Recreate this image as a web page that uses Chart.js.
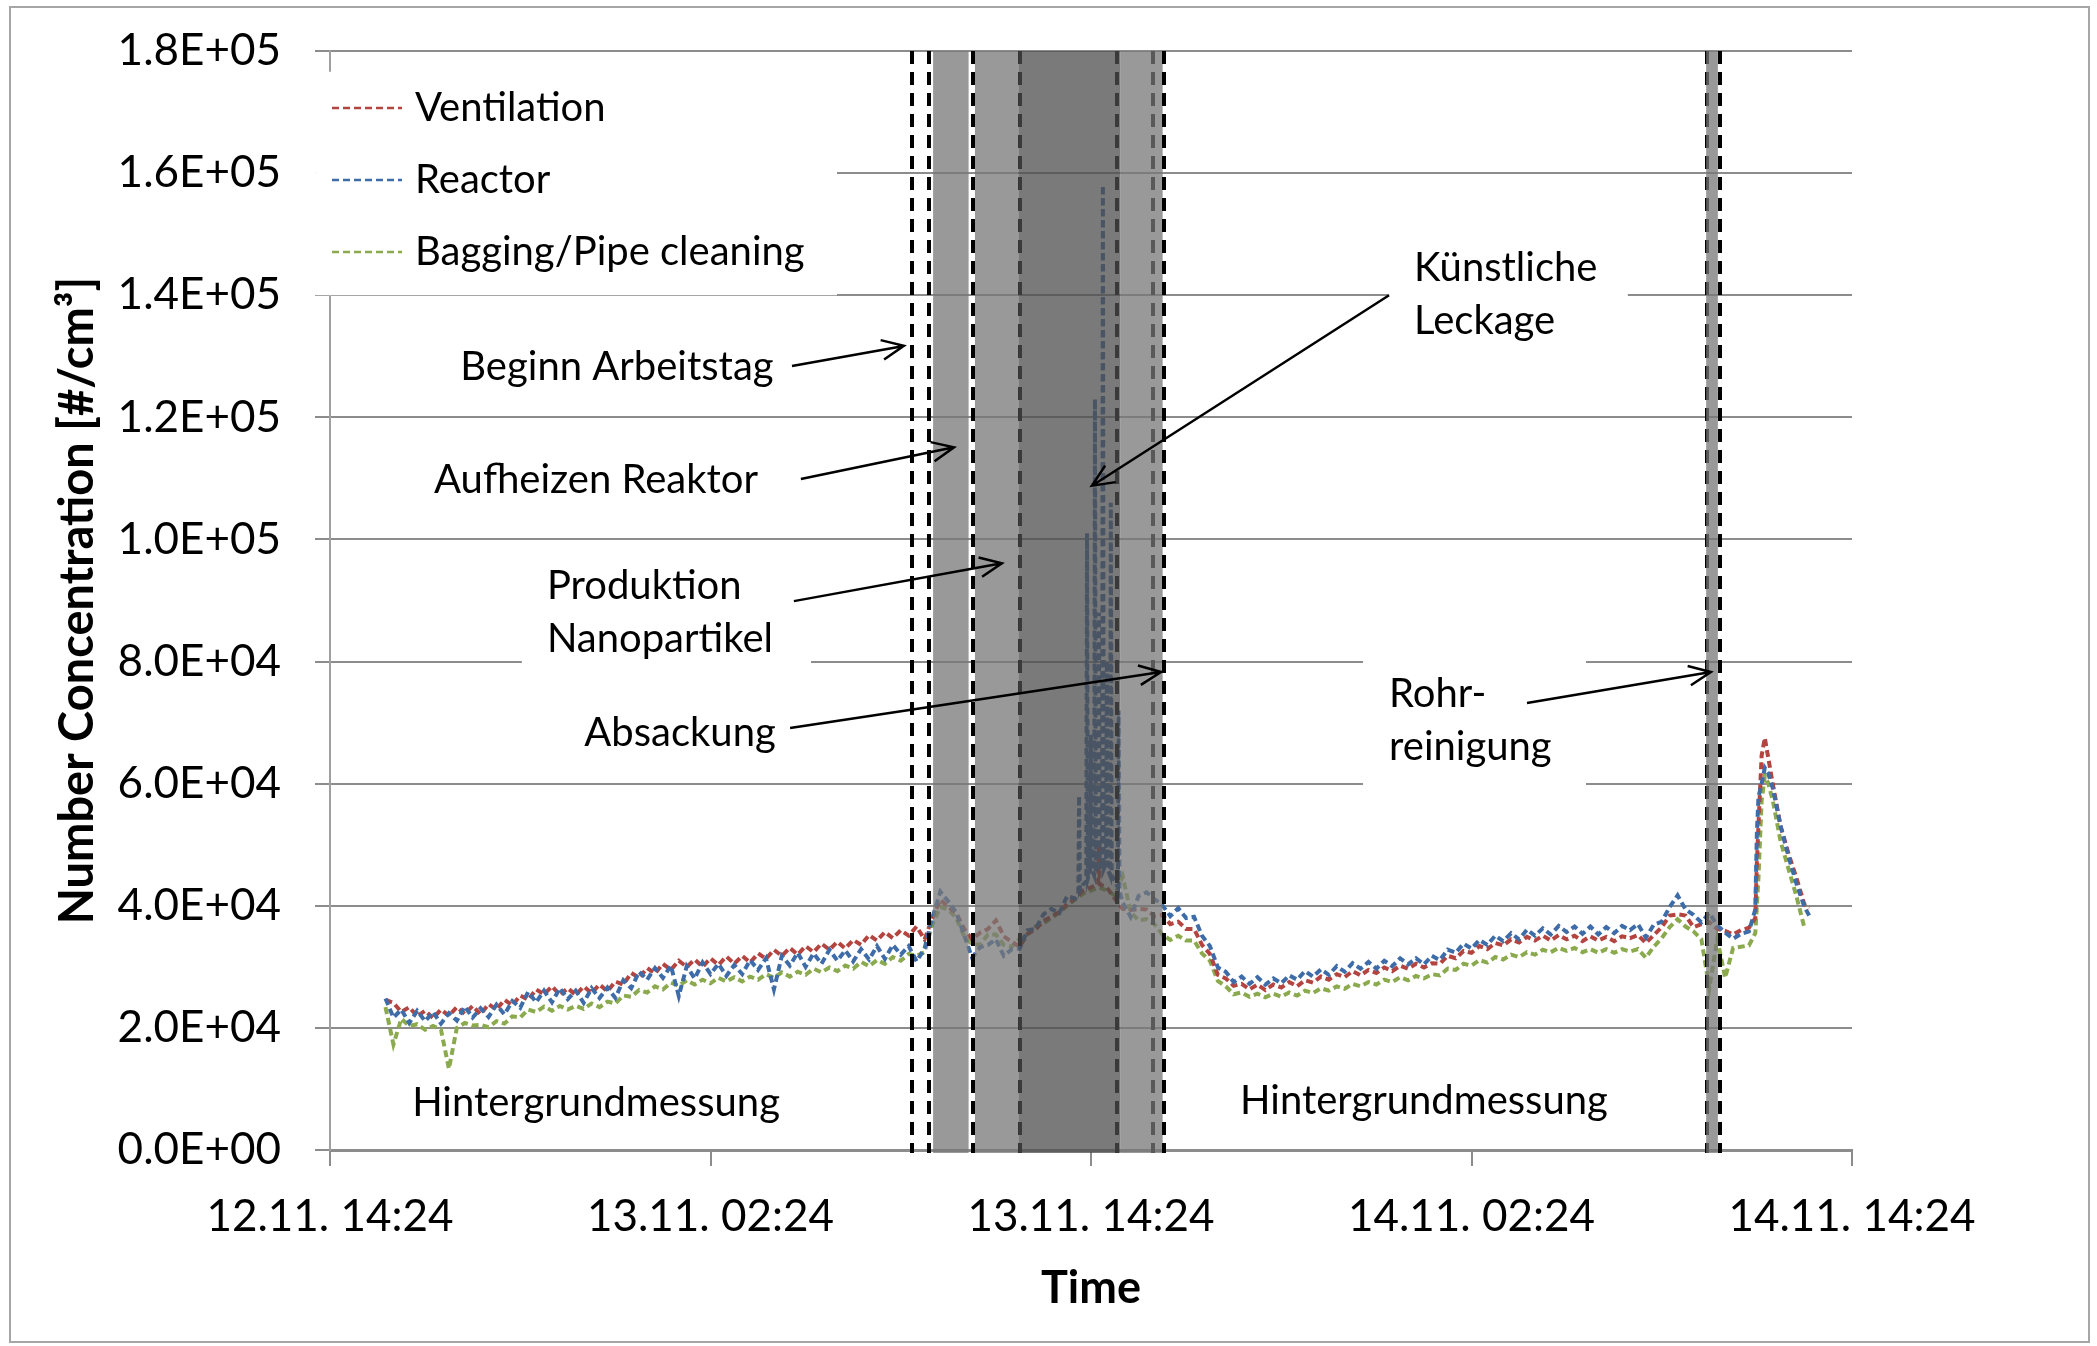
<!DOCTYPE html>
<html>
<head>
<meta charset="utf-8">
<script src="https://cdn.jsdelivr.net/npm/chart.js@4.4.1/dist/chart.umd.min.js"></script>
<style>
  html, body { margin: 0; padding: 0; background: #fff; }
</style>
</head>
<body>
<canvas id="chart" width="2097" height="1346"></canvas>
<script>
// hours after 12.11. 14:24, shared by all three series
const hours = [
  1.75, 2, 2.25, 2.5, 2.75, 3, 3.25, 3.5, 3.75, 4, 4.25, 4.5,
  4.75, 5, 5.25, 5.5, 5.75, 6, 6.25, 6.5, 6.75, 7, 7.25, 7.5,
  7.75, 8, 8.25, 8.5, 8.75, 9, 9.25, 9.5, 9.75, 10, 10.25, 10.5,
  10.75, 11, 11.25, 11.5, 11.75, 12, 12.25, 12.5, 12.75, 13, 13.25, 13.5,
  13.75, 14, 14.25, 14.5, 14.75, 15, 15.25, 15.5, 15.75, 16, 16.25, 16.5,
  16.75, 17, 17.25, 17.5, 17.75, 18, 18.25, 18.5, 18.75, 19, 19.25, 19.5,
  19.75, 20, 20.25, 20.5, 20.75, 21, 21.25, 21.5, 21.75, 22, 22.25, 22.5,
  22.75, 23, 23.25, 23.5, 23.6, 23.625, 23.65, 23.75, 23.85, 23.875, 23.9, 23.975,
  24, 24.025, 24.1, 24.125, 24.15, 24.225, 24.25, 24.275, 24.35, 24.375, 24.4, 24.475,
  24.5, 24.525, 24.6, 24.625, 24.65, 24.75, 24.85, 24.875, 24.9, 25, 25.25, 25.5,
  25.75, 26, 26.25, 26.5, 26.75, 27, 27.25, 27.5, 27.75, 28, 28.25, 28.5,
  28.75, 29, 29.25, 29.5, 29.75, 30, 30.25, 30.5, 30.75, 31, 31.25, 31.5,
  31.75, 32, 32.25, 32.5, 32.75, 33, 33.25, 33.5, 33.75, 34, 34.25, 34.5,
  34.75, 35, 35.25, 35.5, 35.75, 36, 36.25, 36.5, 36.75, 37, 37.25, 37.5,
  37.75, 38, 38.25, 38.5, 38.75, 39, 39.25, 39.5, 39.75, 40, 40.25, 40.5,
  40.75, 41, 41.25, 41.5, 41.75, 42, 42.25, 42.5, 42.75, 43, 43.25, 43.5,
  43.75, 44, 44.25, 44.5, 44.75, 44.95, 45, 45.05, 45.15, 45.25, 45.35, 45.5, 45.75, 46, 46.25, 46.5, 46.65
];

// number concentration in thousands #/cm3
const ventilation = [
  24.6, 24.1, 22.6, 23.4, 21.9, 22.8, 21.6, 23.0, 22.0, 23.4, 22.3, 23.6,
  22.2, 23.9, 23.0, 24.6, 23.7, 25.3, 24.6, 26.3, 25.5, 26.8, 25.4, 26.5,
  25.4, 26.8, 25.7, 27.1, 26.0, 27.6, 27.1, 29.0, 28.2, 29.8, 28.9, 30.5,
  29.5, 31.0, 30.0, 31.2, 30.0, 31.4, 30.3, 31.7, 30.5, 31.8, 30.7, 32.2,
  31.3, 32.8, 31.8, 33.1, 32.0, 33.4, 32.4, 33.8, 32.8, 34.1, 33.0, 34.4,
  33.6, 35.2, 34.3, 35.7, 34.7, 36.0, 35.1, 36.6, 34.5, 38.0, 41.0, 39.8,
  38.8, 36.2, 34.5, 35.6, 36.2, 37.6, 35.0, 34.1, 33.3, 35.4, 36.1, 37.5,
  38.2, 39.0, 40.3, 41.2, null, null, null, 42.5, null, null, null, null,
  43.0, null, null, null, null, 43.5, 50.0, 43.5, null, null, null, null,
  43.0, null, null, null, null, 41.2, null, null, null, 39.5, 39.3, 39.5,
  39.4, 38.3, 38.5, 37.0, 37.4, 36.2, 36.2, 33.6, 32.1, 28.7, 28.1, 26.9,
  27.2, 26.3, 27.1, 26.2, 27.1, 26.6, 27.5, 26.8, 27.8, 27.4, 28.4, 27.9,
  28.8, 28.3, 29.3, 28.6, 29.5, 29.0, 29.9, 29.3, 30.2, 29.7, 30.5, 29.9,
  30.6, 30.5, 31.8, 31.4, 32.6, 32.3, 33.4, 32.9, 33.9, 33.5, 34.5, 34.0,
  34.9, 34.3, 35.1, 34.3, 35.2, 34.5, 35.1, 34.2, 35.0, 34.3, 34.9, 34.2,
  35.0, 34.7, 35.2, 33.9, 35.2, 36.5, 38.4, 38.6, 38.4, 36.5, 37.0, 37.3,
  36.2, 35.9, 35.3, 36.0, 36.4, 38.0, 47.0, 53.2, 64.6, 67.5, 64.5, 60.0, 53.0, 48.5, 44.5, 40.2, 39.6
];

const reactor = [
  24.8, 21.7, 23.0, 20.8, 22.8, 21.1, 22.6, 20.7, 22.4, 21.2, 23.5, 21.7,
  23.2, 21.8, 23.8, 22.2, 24.4, 23.3, 25.9, 24.2, 26.1, 24.2, 26.5, 24.7,
  26.1, 24.1, 26.5, 24.9, 26.6, 24.9, 27.8, 26.5, 29.2, 27.9, 29.8, 28.2,
  30.2, 25.2, 30.1, 28.1, 30.7, 28.8, 30.5, 28.5, 30.3, 28.8, 31.1, 29.5,
  31.4, 26.3, 31.8, 30.2, 32.3, 30.0, 32.2, 30.5, 32.8, 31.0, 32.7, 30.9,
  32.9, 31.2, 33.4, 31.3, 33.6, 32.0, 33.4, 30.9, 33.0, 38.1, 42.3, 40.7,
  38.9, 35.2, 31.5, 33.2, 33.6, 34.5, 31.8, 32.9, 33.0, 36.0, 36.2, 38.6,
  39.5, 38.8, 41.6, 41.2, 42.0, 58.0, 42.5, 43.5, 44.0, 101.0, 44.5, 46.0,
  68.0, 46.0, 45.0, 123.0, 45.5, 47.0, 88.0, 47.0, 46.0, 158.0, 46.0, 47.0,
  80.0, 46.0, 45.0, 106.0, 45.0, 44.0, 43.0, 72.0, 42.5, 40.5, 38.2, 41.6,
  42.2, 41.1, 40.1, 38.3, 39.6, 38.0, 38.2, 35.1, 33.4, 29.9, 29.2, 27.5,
  28.4, 27.2, 28.3, 27.1, 28.1, 27.3, 28.6, 27.9, 29.3, 28.4, 29.6, 28.7,
  30.1, 29.2, 30.6, 29.7, 30.8, 29.7, 31.0, 30.1, 31.4, 30.4, 31.4, 30.4,
  31.8, 31.1, 32.8, 32.3, 33.8, 33.0, 34.4, 33.6, 35.1, 34.2, 35.5, 34.5,
  36.1, 35.1, 36.3, 35.3, 36.7, 35.7, 36.6, 35.4, 36.6, 35.3, 36.5, 35.5,
  36.7, 36.0, 37.0, 34.8, 36.9, 37.4, 39.8, 41.7, 39.4, 38.5, 37.3, 38.8,
  36.8, 35.6, 34.6, 35.4, 35.8, 39.4, 52.0, 57.8, 60.0, 62.6, 61.8, 59.3, 53.0, 48.0, 43.6, 39.8, 38.4
];

const bagging = [
  23.4, 17.3, 21.5, 20.3, 20.6, 19.7, 20.3, 19.7, 13.3, 20.0, 20.8, 20.4,
  20.5, 20.1, 21.1, 20.7, 21.9, 21.7, 23.0, 22.6, 23.5, 22.8, 23.6, 23.0,
  23.6, 23.1, 24.0, 23.4, 24.3, 24.0, 25.3, 25.1, 26.2, 25.8, 26.8, 26.3,
  27.4, 26.9, 27.8, 27.1, 27.9, 27.3, 28.2, 27.6, 28.3, 27.6, 28.4, 27.9,
  28.8, 28.2, 29.1, 28.4, 29.2, 28.7, 29.7, 29.1, 29.9, 29.3, 30.2, 29.7,
  30.8, 30.1, 31.1, 30.5, 31.6, 31.0, 32.1, 31.8, 32.4, 37.0, 39.8, 39.4,
  38.0, 35.0, 33.7, 33.6, 35.3, 35.3, 33.6, 33.3, 34.6, 35.3, 36.6, 37.1,
  38.0, 38.9, 40.0, 41.0, null, null, null, 42.0, null, null, null, null,
  42.5, null, null, null, null, null, 43.0, null, null, null, null, null,
  42.5, null, null, null, null, 41.7, null, null, null, 44.8, 39.0, 37.6,
  37.8, 37.0, 35.3, 34.4, 35.1, 34.3, 34.3, 32.2, 31.0, 27.7, 26.8, 25.5,
  25.8, 25.1, 25.6, 25.0, 25.6, 25.1, 25.8, 25.3, 26.1, 25.7, 26.5, 26.1,
  26.8, 26.4, 27.2, 26.8, 27.5, 27.1, 27.9, 27.5, 28.3, 27.8, 28.5, 28.1,
  28.8, 28.6, 29.7, 29.5, 30.5, 30.2, 31.1, 30.7, 31.6, 31.2, 32.0, 31.6,
  32.4, 32.0, 32.8, 32.4, 33.1, 32.6, 33.1, 32.4, 32.9, 32.3, 32.9, 32.3,
  32.9, 32.5, 32.9, 31.5, 33.3, 34.7, 36.5, 37.8, 36.6, 35.8, 34.5, 26.5,
  34.6, 28.2, 33.1, 33.3, 33.5, 35.5, 40.0, 44.6, 57.2, 61.2, 60.2, 57.3, 50.5, 46.0, 41.5, 36.4, null
];

const seriesNames = ['Ventilation', 'Reactor', 'Bagging/Pipe cleaning'];
const seriesColors = ['#B4443F', '#3E6CA8', '#8BAA4E'];

const xTickLabels = ['12.11. 14:24', '13.11. 02:24', '13.11. 14:24', '14.11. 02:24', '14.11. 14:24'];
const yTickLabels = ['0.0E+00', '2.0E+04', '4.0E+04', '6.0E+04', '8.0E+04', '1.0E+05', '1.2E+05', '1.4E+05', '1.6E+05', '1.8E+05'];

// process phases: [start h, end h, shade]
const bands = [
  [19.02, 20.14, 'light'],
  [20.34, 21.71, 'light'],
  [21.71, 24.92, 'dark'],
  [24.92, 26.26, 'light'],
  [43.40, 43.77, 'light']
];
// dashed markers: [h, under band?]
const markers = [
  [18.35, false], [18.88, false], [20.29, false], [21.77, true], [24.81, true],
  [25.94, true], [26.29, false], [43.43, true], [43.84, false]
];

// annotation texts: lines, anchor [h, value], align
const notes = [
  { lines: ['Beginn Arbeitstag'], at: [9.05, 128.2], align: 'center' },
  { lines: ['Aufheizen Reaktor'], at: [8.39, 109.7], align: 'center' },
  { lines: ['Produktion', 'Nanopartikel'], at: [6.84, 92.4], align: 'left' },
  { lines: ['Absackung'], at: [11.04, 68.3], align: 'center' },
  { lines: ['Künstliche', 'Leckage'], at: [34.19, 144.5], align: 'left' },
  { lines: ['Rohr-', 'reinigung'], at: [33.40, 74.7], align: 'left' },
  { lines: ['Hintergrundmessung'], at: [8.39, 7.7], align: 'center' },
  { lines: ['Hintergrundmessung'], at: [34.50, 8.0], align: 'center' }
];
const arrows = [
  [14.57, 128.4, 18.10, 131.7],
  [14.85, 109.9, 19.68, 115.1],
  [14.63, 89.9, 21.19, 96.1],
  [14.51, 69.1, 26.21, 78.3],
  [33.40, 140.0, 24.03, 108.8],
  [37.75, 73.2, 43.55, 78.3]
];
// white boxes behind the labels: [h1, h2, v1, v2]
const labelBoxes = [
  [-0.47, 15.99, 140.0, 176.6],
  [6.05, 15.17, 77.8, 97.4],
  [33.40, 40.93, 131.0, 149.0],
  [32.58, 39.61, 58.1, 81.9]
];

const FONT = 'Lato, "Open Sans", sans-serif';

function toPoints(vals) {
  return hours.map((h, i) => ({ x: h, y: vals[i] }));
}

const overlay = {
  id: 'overlay',
  beforeDatasetsDraw(chart) {
    const { ctx, scales: { x, y } } = chart;
    ctx.save();
    ctx.fillStyle = '#fff';
    labelBoxes.forEach(b => {
      const x1 = x.getPixelForValue(b[0]), x2 = x.getPixelForValue(b[1]);
      const y1 = y.getPixelForValue(b[3]), y2 = y.getPixelForValue(b[2]);
      ctx.fillRect(x1, y1, x2 - x1, y2 - y1);
    });
    ctx.restore();
  },
  afterDatasetsDraw(chart) {
    const { ctx, chartArea: a, scales: { x, y } } = chart;
    ctx.save();

    const drawMarker = m => {
      const px = Math.round(x.getPixelForValue(m[0]));
      ctx.strokeStyle = '#000';
      ctx.lineWidth = 4;
      ctx.setLineDash([13, 8]);
      ctx.beginPath();
      ctx.moveTo(px, a.top);
      ctx.lineTo(px, a.bottom + 3);
      ctx.stroke();
    };
    markers.filter(m => m[1]).forEach(drawMarker);

    bands.forEach(b => {
      const x1 = x.getPixelForValue(b[0]), x2 = x.getPixelForValue(b[1]);
      ctx.fillStyle = b[2] === 'dark' ? 'rgba(78,78,78,0.75)' : 'rgba(119,119,119,0.75)';
      ctx.fillRect(x1, a.top, x2 - x1, a.bottom - a.top + 3);
    });

    markers.filter(m => !m[1]).forEach(drawMarker);
    ctx.setLineDash([]);

    // arrows
    ctx.strokeStyle = '#000';
    ctx.lineWidth = 2.5;
    arrows.forEach(r => {
      const x1 = x.getPixelForValue(r[0]), y1 = y.getPixelForValue(r[1]);
      const x2 = x.getPixelForValue(r[2]), y2 = y.getPixelForValue(r[3]);
      const ang = Math.atan2(y2 - y1, x2 - x1);
      ctx.beginPath();
      ctx.moveTo(x1, y1);
      ctx.lineTo(x2, y2);
      ctx.moveTo(x2 - 24 * Math.cos(ang - 0.42), y2 - 24 * Math.sin(ang - 0.42));
      ctx.lineTo(x2, y2);
      ctx.lineTo(x2 - 24 * Math.cos(ang + 0.42), y2 - 24 * Math.sin(ang + 0.42));
      ctx.stroke();
    });

    // texts
    ctx.fillStyle = '#000';
    ctx.font = '40px ' + FONT;
    ctx.textBaseline = 'middle';
    notes.forEach(n => {
      ctx.textAlign = n.align;
      const px = x.getPixelForValue(n.at[0]);
      const py = y.getPixelForValue(n.at[1]);
      n.lines.forEach((t, i) => ctx.fillText(t, px, py + i * 53));
    });

    // legend
    ctx.textAlign = 'left';
    seriesNames.forEach((name, i) => {
      const ly = a.top + 57 + i * 72;
      ctx.strokeStyle = seriesColors[i];
      ctx.lineWidth = 2.5;
      ctx.setLineDash([7, 4]);
      ctx.beginPath();
      ctx.moveTo(a.left + 2, ly);
      ctx.lineTo(a.left + 72, ly);
      ctx.stroke();
      ctx.setLineDash([]);
      ctx.fillStyle = '#000';
      ctx.fillText(name, a.left + 85, ly);
    });
    ctx.restore();
  },
  afterDraw(chart) {
    const ctx = chart.ctx;
    ctx.save();
    ctx.strokeStyle = '#a6a6a6';
    ctx.lineWidth = 2;
    ctx.strokeRect(10, 7, 2079, 1335);
    ctx.restore();
  }
};

const datasets = [ventilation, reactor, bagging].map((vals, i) => ({
  label: seriesNames[i],
  data: toPoints(vals),
  borderColor: seriesColors[i],
  borderWidth: 4,
  borderDash: [7, 4],
  pointRadius: 0,
  tension: 0,
  spanGaps: true,
  order: [2, 1, 3][i]
}));

new Chart(document.getElementById('chart'), {
  type: 'line',
  data: { datasets },
  options: {
    responsive: false,
    animation: false,
    layout: { padding: { left: 0, top: 51, right: 245, bottom: 0 } },
    plugins: { legend: { display: false }, tooltip: { enabled: false } },
    scales: {
      x: {
        type: 'linear',
        min: 0, max: 48,
        afterFit: s => { s.height = 196; s.paddingLeft = 0; s.paddingRight = 0; },
        grid: { drawOnChartArea: false, drawTicks: true, tickLength: 16, color: '#8c8c8c', lineWidth: 2 },
        border: { display: true, color: '#8c8c8c', width: 3 },
        ticks: {
          stepSize: 12, autoSkip: false, maxRotation: 0, padding: 24,
          color: '#000', font: { family: FONT, size: 44 },
          callback: v => xTickLabels[v / 12]
        },
        title: { display: true, text: 'Time', color: '#000', font: { family: FONT, size: 45, weight: 'bold' }, padding: { top: 0, bottom: 31 } }
      },
      y: {
        min: 0, max: 180,
        afterFit: s => { s.width = 330; s.paddingTop = 0; s.paddingBottom = 0; },
        grid: { color: '#8c8c8c', lineWidth: 2, tickLength: 15 },
        border: { display: true, color: '#a0a0a0', width: 2 },
        ticks: {
          stepSize: 20, padding: 34,
          color: '#000', font: { family: FONT, size: 44 },
          callback: v => yTickLabels[Math.round(v / 20)]
        },
        title: { display: true, text: 'Number Concentration [#/cm³]', color: '#000', font: { family: FONT, size: 47, weight: 'bold' }, padding: { top: 50, bottom: 0 } }
      }
    }
  },
  plugins: [overlay]
});
</script>
</body>
</html>
